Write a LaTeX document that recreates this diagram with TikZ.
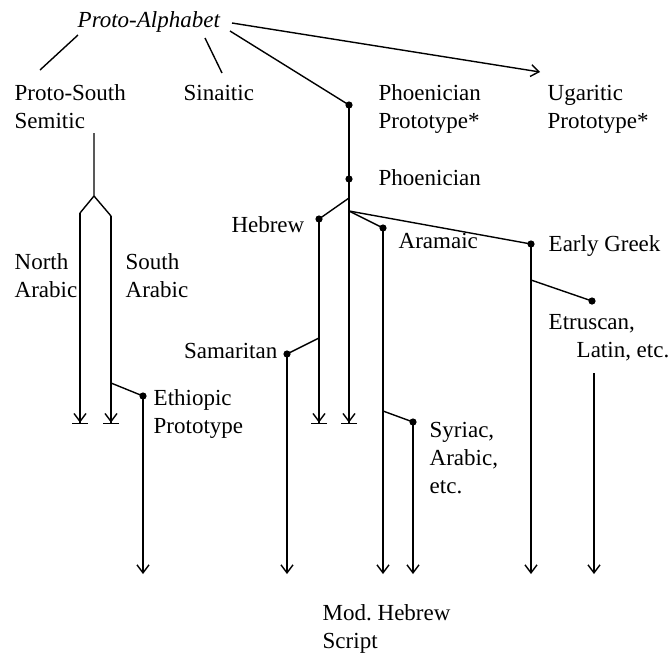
\documentclass[tikz,border=0pt]{standalone}
\usepackage{fontspec}
\setmainfont{Liberation Serif}
\usetikzlibrary{arrows.meta}
\tikzset{
  lbl/.style={font=\fontsize{11.5}{14}\selectfont, inner sep=0pt, align=left},
  dot/.style={circle, fill, inner sep=0pt, minimum size=3.6pt},
  tip/.style={-{Straight Barb[length=4pt,width=6pt]}},
  stop/.style={-{Straight Barb[length=4pt,width=6pt] Bar[width=8pt,sep=1pt]}}
}
\begin{document}
\begin{tikzpicture}[x=0.5pt, y=-0.5pt, line width=0.7pt]
    \useasboundingbox (0,0) rectangle (670,654);
    % labels (base = last line)
    \node[lbl, anchor=base west] (alpha) at (77,27){\itshape Proto-Alphabet};
    \node[lbl, anchor=base west] (pss) at (14,128){Proto-South\\Semitic};
    \node[lbl, anchor=base west] (sin) at (183,100){Sinaitic};
    \node[lbl, anchor=base west] (phpl) at (378,128){Phoenician\\Prototype*};
    \node[lbl, anchor=base west] (ugl) at (547,128){Ugaritic\\Prototype*};
    \node[lbl, anchor=base west] (phl) at (378,185){Phoenician};
    \node[lbl, anchor=base east] (hebl) at (305,232){Hebrew};
    \node[lbl, anchor=base west] (aral) at (398,248){Aramaic};
    \node[lbl, anchor=base west] (grl) at (548,251){Early Greek};
    \node[lbl, anchor=base west] (nal) at (14,297){North\\Arabic};
    \node[lbl, anchor=base west] (sal) at (125,297){South\\Arabic};
    \node[lbl, anchor=base east] (saml) at (278,358){Samaritan};
    \node[lbl, anchor=base west] (ethl) at (153,433){Ethiopic\\Prototype};
    \node[lbl, anchor=base west] (etrl) at (548,357){Etruscan,\\\hspace*{14pt}Latin, etc.};
    \node[lbl, anchor=base west] (syrl) at (429,493){Syriac,\\Arabic,\\etc.};
    \node[lbl, anchor=base west] (modl) at (322,648){Mod.\ Hebrew\\Script};
    % dots
    \node[dot] (php) at (349,105){};
    \node[dot] (ph) at (349,179){};
    \node[dot] (heb) at (319,219){};
    \node[dot] (ara) at (383,228){};
    \node[dot] (gr) at (531,244){};
    \node[dot] (sam) at (287,354){};
    \node[dot] (eth) at (143,396){};
    \node[dot] (syr) at (413,422){};
    \node[dot] (etr) at (592,301){};
    % branch points and ends
    \coordinate (a1) at (78,35);   \coordinate (a1e) at (40,70);
    \coordinate (a2) at (205,38);  \coordinate (a2e) at (222,73);
    \coordinate (a3) at (230,31);
    \coordinate (a4) at (232,23);  \coordinate (uge) at (540,72);
    \coordinate (s0) at (94,133);  \coordinate (fork) at (94,196);
    \coordinate (nb) at (80,213);  \coordinate (ne) at (80,426);
    \coordinate (sb) at (111,216); \coordinate (se) at (111,426);
    \coordinate (sx) at (111,383); \coordinate (ethe) at (143,574);
    \coordinate (phe) at (349,426);
    \coordinate (hx) at (349,198); \coordinate (hebe) at (319,426);
    \coordinate (ax) at (349,211); \coordinate (arae) at (383,574);
    \coordinate (samx) at (319,338); \coordinate (same) at (287,574);
    \coordinate (syrx) at (383,411); \coordinate (syre) at (413,574);
    \coordinate (etrx) at (531,280); \coordinate (gre) at (531,574);
    \coordinate (lat) at (594,373); \coordinate (late) at (594,574);
    % lines
    \draw (a1) -- (a1e);
    \draw (a2) -- (a2e);
    \draw (a3) -- (php.center);
    \draw[tip] (a4) -- (uge);
    \draw (s0) -- (fork) -- (nb);
    \draw (fork) -- (sb);
    \draw[stop] (nb) -- (ne);
    \draw[stop] (sb) -- (se);
    \draw (sx) -- (eth.center);
    \draw[tip] (eth.center) -- (ethe);
    \draw (php.center) -- (ph.center);
    \draw[stop] (ph.center) -- (phe);
    \draw (hx) -- (heb.center);
    \draw[stop] (heb.center) -- (hebe);
    \draw (samx) -- (sam.center);
    \draw[tip] (sam.center) -- (same);
    \draw (ax) -- (ara.center);
    \draw[tip] (ara.center) -- (arae);
    \draw (syrx) -- (syr.center);
    \draw[tip] (syr.center) -- (syre);
    \draw (ax) -- (gr.center);
    \draw[tip] (gr.center) -- (gre);
    \draw (etrx) -- (etr.center);
    \draw[tip] (lat) -- (late);
\end{tikzpicture}
\end{document}
